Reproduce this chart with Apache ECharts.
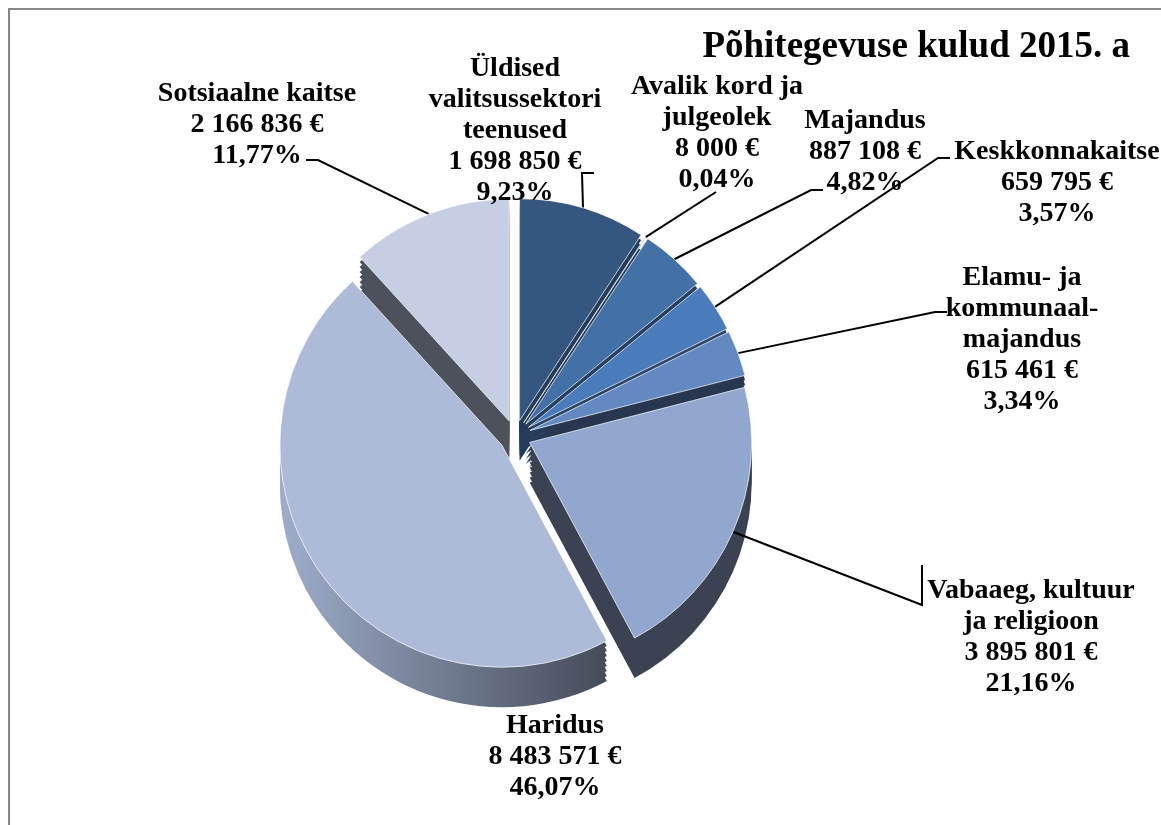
<!DOCTYPE html>
<html>
<head>
<meta charset="utf-8">
<script src="https://cdn.jsdelivr.net/npm/echarts@6/dist/echarts.min.js"></script>
<style>
html, body { margin: 0; padding: 0; background: #fff; }
#main { width: 1161px; height: 825px; }
</style>
</head>
<body>
<div id="main"></div>
<script>
// andmed
var names = ['Üldised\nvalitsussektori\nteenused', 'Avalik kord ja\njulgeolek', 'Majandus', 'Keskkonnakaitse',
	'Elamu- ja\nkommunaal-\nmajandus', 'Vabaaeg, kultuur\nja religioon', 'Haridus', 'Sotsiaalne kaitse'];
var values = [1698850, 8000, 887108, 659795, 615461, 3895801, 8483571, 2166836];
var percents = ['9,23%', '0,04%', '4,82%', '3,57%', '3,34%', '21,16%', '46,07%', '11,77%'];

var topColors = ['#35577f', '#2e507a', '#4470a8', '#4a7bbb', '#6289c1', '#91a7cf', '#adbbd8', '#c5cee3'];
var sideColors = ['#243b5a', '#233858', '#273f60', '#2a4466', '#28374f', '#3b4252',
	{type: 'linear', x: 0, y: 0, x2: 1, y2: 0, colorStops: [{offset: 0, color: '#9eadca'}, {offset: 1, color: '#454b59'}]},
	'#4d515c'];

// sildi keskpunktid ja juhtjoone otsad (lehe koordinaadid)
var labelPos = [[515, 131], [717, 133], [865, 152], [1057, 183], [1022, 340], [1031, 637], [555, 757], [257, 125]];
var lineEnd = [[594, 173], [716, 192], [823, 190], [950, 158], [947, 312], [922, 565], null, [306, 160]];

var cx = 515, cy = 436, R = 222, depth = 40, explode = 16;

function fmt(v) {
	return String(v).replace(/\B(?=(\d{3})+(?!\d))/g, ' ') + ' €';
}

// väljatõmmatud sektori nihe: silt liigub koos sektoriga
var total = 0;
for (var i = 0; i < values.length; i++) total += values[i];
var shift = [];
var acc = 0;
for (var i = 0; i < values.length; i++) {
	var a = (acc + values[i] / 2) / total * Math.PI * 2;
	shift.push([explode * Math.sin(a), -explode * Math.cos(a)]);
	acc += values[i];
}

function buildData(colors, withLabel) {
	var arr = [];
	for (var i = 0; i < values.length; i++) {
		var item = {
			name: names[i],
			value: values[i],
			selected: true,
			itemStyle: {color: colors[i]},
			select: {itemStyle: {color: colors[i]}}
		};
		if (withLabel && i == 6) {
			item.labelLine = {show: false};
		}
		arr.push(item);
	}
	return arr;
}

var series = [];
var layers = 8;
for (var k = layers; k >= 1; k--) {
	series.push({
		type: 'pie',
		silent: true,
		center: [cx, cy + depth * k / layers],
		radius: R,
		startAngle: 90,
		clockwise: true,
		selectedMode: 'multiple',
		selectedOffset: explode,
		animation: false,
		label: {show: false},
		labelLine: {show: false},
		itemStyle: {borderWidth: 0},
		z: 1,
		data: buildData(sideColors, false)
	});
}

series.push({
	type: 'pie',
	center: [cx, cy],
	radius: R,
	startAngle: 90,
	clockwise: true,
	selectedMode: 'multiple',
	selectedOffset: explode,
	animation: false,
	z: 2,
	itemStyle: {borderColor: 'rgba(255,255,255,0.7)', borderWidth: 1},
	label: {
		show: true,
		position: 'outside',
		alignTo: 'none',
		color: '#000',
		fontFamily: '"Liberation Serif", "Times New Roman", serif',
		fontWeight: 'bold',
		fontSize: 28,
		lineHeight: 31,
		formatter: function(p) {
			return p.name + '\n' + fmt(p.value) + '\n' + percents[p.dataIndex];
		}
	},
	labelLine: {show: true, length: 10, length2: 10, lineStyle: {color: '#000', width: 2}},
	labelLayout: function(params) {
		var i = params.dataIndex;
		var o = shift[i];
		var p = labelPos[i];
		var r = params.labelRect;
		var anchorX = r.x;
		if (params.align == 'right') anchorX = r.x + r.width;
		else if (params.align == 'center') anchorX = r.x + r.width / 2;
		var res = {
			dx: p[0] - o[0] - anchorX,
			dy: p[1] - o[1] - (r.y + r.height / 2),
			align: 'center'
		};
		var e = lineEnd[i];
		if (e && params.labelLinePoints) {
			var s = params.labelLinePoints[0];
			var end = [e[0] - o[0], e[1] - o[1]];
			if (i == 1) {
				res.labelLinePoints = [s, end];
			} else if (i == 5) {
				res.labelLinePoints = [s, [end[0], end[1] + 40], end];
			} else {
				var stub = s[0] < end[0] ? -12 : 12;
				res.labelLinePoints = [s, [end[0] + stub, end[1]], end];
			}
		}
		return res;
	},
	data: buildData(topColors, true)
});

var myChart = echarts.init(document.getElementById('main'));
var option = {
	backgroundColor: '#fff',
	title: {
		text: 'Põhitegevuse kulud 2015. a',
		right: 26,
		top: 24,
		textStyle: {
			fontFamily: '"Liberation Serif", "Times New Roman", serif',
			fontWeight: 'bold',
			fontSize: 37,
			color: '#000'
		}
	},
	graphic: [{
		type: 'rect',
		shape: {x: 9, y: 9, width: 1200, height: 900},
		style: {fill: 'none', stroke: '#888', lineWidth: 2},
		silent: true
	}],
	series: series
};
myChart.setOption(option);
</script>
</body>
</html>
